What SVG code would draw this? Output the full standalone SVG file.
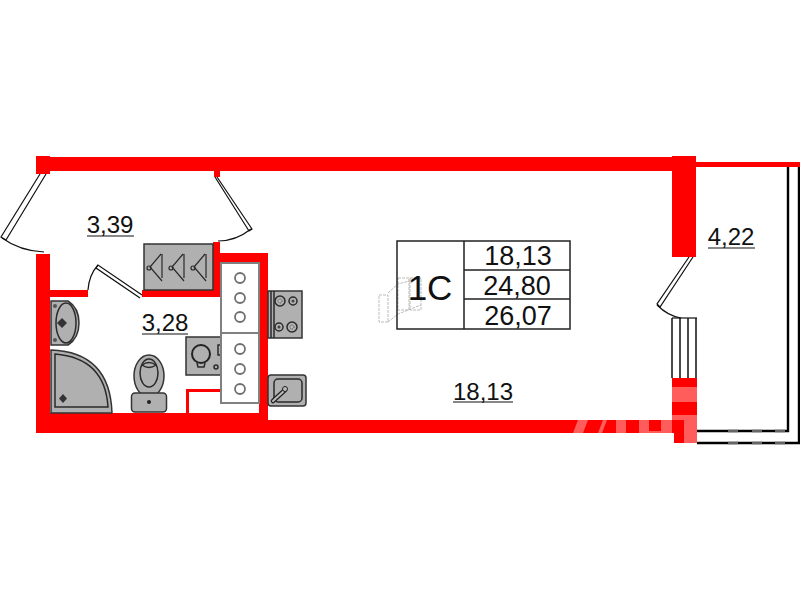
<svg xmlns="http://www.w3.org/2000/svg" width="800" height="600" viewBox="0 0 800 600">
<style>
.w{fill:#f00}
.wm{fill:#ff5c5c}
.l{fill:none;stroke:#111;stroke-width:1.2}
.b{fill:none;stroke:#000;stroke-width:2.4}
.wl{fill:none;stroke:#111;stroke-width:1.5}
.g{fill:#b0b0b0;stroke:#333;stroke-width:1.5}
.k{fill:none;stroke:#2a2a2a;stroke-width:1.5}
.h{fill:none;stroke:#2a2a2a;stroke-width:1.2}
.c{fill:#fff;stroke:#808080;stroke-width:2}
.o{fill:none;stroke:#707070;stroke-width:1.8}
.t{font-family:"Liberation Sans",Arial,sans-serif;fill:#111;font-size:24px;text-anchor:middle}
.t2{font-size:27px}
.u{stroke:#111;stroke-width:1.2}
.cell{fill:none;stroke:#222;stroke-width:1.5}
.f{stroke:#666;stroke-width:2.6}
</style>
<rect width="800" height="600" fill="#fff"/>
<g id="walls">
<rect class="w" x="36" y="156" width="14" height="18"/>
<rect class="w" x="36" y="157" width="660" height="14"/>
<rect class="w" x="672" y="156" width="24" height="101"/>
<rect class="w" x="696" y="162" width="104" height="5"/>
<rect class="w" x="214" y="170" width="6" height="7"/>
<rect class="w" x="36" y="254" width="14" height="179"/>
<rect class="w" x="50" y="290" width="38" height="7"/>
<rect class="w" x="142" y="290" width="78" height="7"/>
<rect class="w" x="213" y="242" width="7" height="55"/>
<rect class="w" x="220" y="253" width="48" height="9"/>
<rect class="w" x="259" y="253" width="9" height="180"/>
<rect class="w" x="36" y="413" width="232" height="20"/>
<rect class="w" x="268" y="420" width="404" height="13"/>
<rect class="w" x="672" y="378" width="25" height="55"/>
<rect class="w" x="674" y="433" width="23" height="10"/>
<rect class="w" x="186" y="390" width="3" height="23"/>
<rect class="w" x="186" y="389" width="35" height="3"/>
</g>
<g id="watermark">
<polygon class="wm" points="578,420 588,420 583,433 573,433"/>
<polygon class="wm" points="603,420 607,420 602,433 598,433"/>
<rect class="wm" x="616" y="420" width="10" height="13"/>
<rect class="wm" x="639" y="420" width="10" height="13"/>
<rect class="wm" x="649" y="431" width="12" height="2"/>
<rect class="wm" x="661" y="420" width="11" height="13"/>
<rect class="wm" x="672" y="387" width="25" height="15"/>
<rect class="wm" x="672" y="415" width="12" height="5"/>
<rect class="wm" x="684" y="415" width="13" height="28"/>
</g>
<g id="connectors">
<path class="l" d="M40 174 L1 237 L6 240 L46 174"/>
<path class="l" d="M2 238 Q20 251 44 252"/>
<path class="l" d="M217 177 L252 229 L249 231 L215 177"/>
<path class="l" d="M251 229 Q236 241 218 241"/>
<path class="l" d="M142 295 L98 265 L96 268 L140 298"/>
<path class="l" d="M98 265 Q89 275 88 290"/>
<path class="l" d="M689 257 L657 304 L660 307 L693 257"/>
<path class="l" d="M657 305 Q668 316 681 318"/>
<path class="l" d="M672 318 H697"/>
<path class="wl" d="M672 318 V378 M680 318 V378 M688 318 V378 M696 318 V378"/>
<path class="b" d="M697 431 H788 V167 M697 443 H799 V167"/>
<path class="f" d="M728 431 H738 M752 431 H762 M775 431 H785 M728 443 H738 M752 443 H762 M775 443 H785"/>
<path d="M379 295 H388 V322 H379 Z M388 293 L398 284 L421 278 M388 322 L398 314 L421 305 M398 278 H409 V310 H398 Z M410 278 H421 V310 H410 Z" fill="none" stroke="#aaa" stroke-width="0.8" stroke-dasharray="3 1"/>
</g>
<g id="closet">
<rect class="g" x="144" y="244" width="69" height="46"/>
<g id="hanger1"><path class="h" d="M161 254 L150 267 L162 281 M162 254 V278"/><circle class="h" cx="149" cy="268" r="2"/></g>
<g id="hanger2"><path class="h" d="M183 254 L172 267 L184 281 M184 254 V278"/><circle class="h" cx="171" cy="268" r="2"/></g>
<g id="hanger3"><path class="h" d="M205 254 L194 267 L206 281 M206 254 V278"/><circle class="h" cx="193" cy="268" r="2"/></g>
</g>
<g id="basin">
<path class="g" d="M51 301 H68 Q79 308 79 323 Q79 338 68 345 H51 Z"/>
<ellipse class="k" cx="66" cy="323" rx="10" ry="20"/>
<path d="M62 318 L67 323 L62 328 L57 323 Z" fill="#333"/>
<circle cx="55" cy="306" r="2" fill="#555"/><circle cx="55" cy="340" r="2" fill="#555"/>
</g>
<g id="shower">
<path class="g" d="M51 350 Q110 352 112 413 H51 Z"/>
<path class="k" d="M55 354 Q105 358 108 407 H55 Z"/>
<path d="M63 394 L67 398.500 L63 403 L59 398.500 Z" fill="#333"/>
</g>
<g id="toilet">
<ellipse class="g" cx="149" cy="376" rx="15" ry="21"/>
<ellipse class="k" cx="149" cy="373" rx="9" ry="14"/>
<path class="k" d="M142 365 Q149 360 156 365 Q149 370 142 365 Z"/>
<rect class="g" x="131.500" y="393" width="35" height="19" rx="3.500"/>
<circle cx="149" cy="402" r="2" fill="#222"/>
</g>
<g id="washer">
<rect class="g" x="186" y="337" width="35" height="38"/>
<circle cx="201" cy="354" r="9" fill="none" stroke="#222" stroke-width="2"/>
<path class="k" d="M197 363 L198 367 H204 L205 363"/>
<circle cx="216" cy="367" r="2" class="k"/>
<rect x="218" y="345" width="3" height="10" class="k"/>
</g>
<g id="cabinet1">
<rect class="c" x="221" y="263" width="38" height="70"/>
<circle class="o" cx="240" cy="278" r="5"/><circle class="o" cx="240" cy="298" r="5"/><circle class="o" cx="240" cy="317" r="5"/>
</g>
<g id="cabinet2">
<rect class="c" x="221" y="333" width="38" height="70"/>
<circle class="o" cx="240" cy="349" r="5"/><circle class="o" cx="240" cy="369" r="5"/><circle class="o" cx="240" cy="389" r="5"/>
</g>
<g id="stove">
<rect class="g" x="268" y="291" width="34" height="47"/>
<path class="k" d="M271 291 V338 M274 291 V338"/>
<circle class="k" cx="280" cy="301" r="5"/><circle class="k" cx="293" cy="301" r="4"/>
<circle class="k" cx="279" cy="327" r="4"/><circle class="k" cx="292" cy="327" r="5"/>
<circle cx="280" cy="301" r="2" fill="#bbb" stroke="#444" stroke-dasharray="1 1"/><circle cx="293" cy="301" r="1.500" fill="#444"/>
<circle cx="279" cy="327" r="1.500" fill="#444"/><circle cx="292" cy="327" r="2" fill="#bbb" stroke="#444" stroke-dasharray="1 1"/>
</g>
<g id="sink">
<rect class="g" x="268" y="375" width="38" height="31" rx="3"/>
<rect class="k" x="274" y="379" width="28" height="23" rx="4"/>
<path d="M273 401 L285 390" stroke="#222" stroke-width="4.500" stroke-linecap="round"/>
<path d="M273 401 L285 390" stroke="#bbb" stroke-width="2" stroke-linecap="round"/>
<circle cx="285" cy="389" r="2.500" fill="#bbb" stroke="#222"/>
</g>
<g id="table">
<rect class="cell" x="397" y="241" width="173" height="88"/>
<path class="cell" d="M464 241 V329 M464 270 H570 M464 299 H570"/>
<text class="t" x="430" y="300" style="font-size:35px">1С</text>
<text class="t t2" x="518" y="265">18,13</text>
<text class="t t2" x="517" y="295">24,80</text>
<text class="t t2" x="518" y="325">26,07</text>
</g>
<g id="area-balcony-entry"><text class="t" x="110" y="233">3,39</text><path class="u" d="M87 236 H134"/></g>
<g id="area-bath"><text class="t" x="165" y="331">3,28</text><path class="u" d="M142 334 H188"/></g>
<g id="area-room"><text class="t" x="483" y="400">18,13</text><path class="u" d="M453 402 H513"/></g>
<g id="area-loggia"><text class="t" x="731" y="245">4,22</text><path class="u" d="M708 248 H755"/></g>
</svg>
